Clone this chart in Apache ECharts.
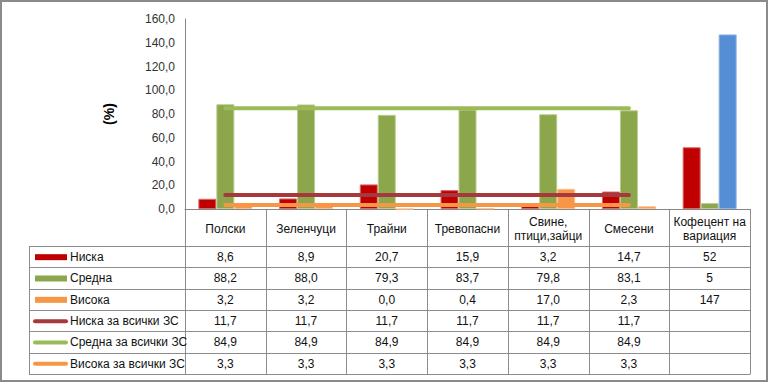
<!DOCTYPE html>
<html><head><meta charset="utf-8">
<script src="https://cdn.jsdelivr.net/npm/echarts@6/dist/echarts.min.js"></script>
<style>html,body{margin:0;padding:0;background:#fff}#c{width:770px;height:383px}</style>
</head><body><div id="c"></div>
<script>
const categories = ['Полски','Зеленчуци','Трайни','Тревопасни','Свине,\nптици,зайци','Смесени','Кофецент на\nвариация'];
const seriesNames = ['Ниска','Средна','Висока','Ниска за всички ЗС','Средна за всички ЗС','Висока за всички ЗС'];
const low = [8.6, 8.9, 20.7, 15.9, 3.2, 14.7, 52];
const mid = [88.2, 88.0, 79.3, 83.7, 79.8, 83.1, 5];
const high = [3.2, 3.2, 0.0, 0.4, 17.0, 2.3, 147];
const lowAll = [11.7, 11.7, 11.7, 11.7, 11.7, 11.7, null];
const midAll = [84.9, 84.9, 84.9, 84.9, 84.9, 84.9, null];
const highAll = [3.3, 3.3, 3.3, 3.3, 3.3, 3.3, null];
const yMin = 0, yMax = 160, yStep = 20;

const colors = ['#C00000', '#8BA64B', '#F79646', '#A5393B', '#9BBB59', '#F79646'];
const borders = ['#D86A6A', '#B9CC8F', '#FAC090'];
const specialColor = '#558ED5';
const allData = [low, mid, high, lowAll, midAll, highAll];

const W = 770, H = 383;
const gridLeft = 185, gridRightX = 750, gridTop = 19, axisY = 209;
const tableLeft = 29, headerBottom = 246, rowH = 21.33;
const colW = (gridRightX - gridLeft) / categories.length;
const font = '"Liberation Sans", Arial, sans-serif';

function fmt(v, i) {
  if (v === null || v === undefined) return '';
  if (i === categories.length - 1) return String(v);
  return v.toFixed(1).replace('.', ',');
}

const g = [];
const lineColor = '#8c8c8c';
function hline(x1, x2, y) { g.push({type:'line', silent:true, shape:{x1:x1, y1:y, x2:x2, y2:y}, style:{stroke:lineColor, lineWidth:1}}); }
function vline(x, y1, y2) { g.push({type:'line', silent:true, shape:{x1:x, y1:y1, x2:x, y2:y2}, style:{stroke:lineColor, lineWidth:1}}); }
const tableBottom = headerBottom + rowH * seriesNames.length;
for (let r = 0; r <= seriesNames.length; r++) {
  const y = Math.round(headerBottom + r * rowH) + 0.5;
  hline(tableLeft, gridRightX, y);
}
vline(tableLeft + 0.5, headerBottom, Math.round(tableBottom) + 0.5);
for (let c = 0; c <= categories.length; c++) {
  const x = Math.round(gridLeft + c * colW) + 0.5;
  vline(x, axisY, Math.round(tableBottom) + 0.5);
}
categories.forEach((name, c) => {
  g.push({type:'text', silent:true, style:{text:name, x: gridLeft + (c + 0.5) * colW, y: (axisY + headerBottom) / 2 + 1,
    align:'center', verticalAlign:'middle', fontSize:12, fontFamily:font, fill:'#111', lineHeight:14}});
});
seriesNames.forEach((name, r) => {
  const cy = headerBottom + (r + 0.5) * rowH + 0.5;
  if (r < 3) {
    g.push({type:'rect', silent:true, shape:{x:35, y:cy - 3, width:32, height:6}, style:{fill:colors[r]}});
  } else {
    g.push({type:'line', silent:true, shape:{x1:35, y1:cy, x2:66, y2:cy}, style:{stroke:colors[r], lineWidth:4, lineCap:'round'}});
  }
  g.push({type:'text', silent:true, style:{text:name, x:70, y:cy, align:'left', verticalAlign:'middle', fontSize:12, fontFamily:font, fill:'#111'}});
  allData[r].forEach((v, c) => {
    g.push({type:'text', silent:true, style:{text:fmt(v, c), x: gridLeft + (c + 0.5) * colW, y: cy,
      align:'center', verticalAlign:'middle', fontSize:12, fontFamily:font, fill:'#111'}});
  });
});
g.push({type:'rect', silent:true, shape:{x:1, y:1, width:W - 4, height:H - 3}, style:{fill:'none', stroke:'#8a8a8a', lineWidth:2}});

const barSeries = [low, mid, high].map((arr, i) => ({
  type:'bar', name: seriesNames[i], barWidth:18, barGap:'0%', z:2,
  data: arr.map((v, c) => (i === 2 && c === categories.length - 1)
    ? {value:v, itemStyle:{color:specialColor, borderColor:'#8DB3E2'}} : v),
  itemStyle:{color:colors[i], borderColor:borders[i], borderWidth:1}
}));
const lineSeries = [lowAll, midAll, highAll].map((arr, i) => ({
  type:'line', name: seriesNames[i + 3], data: arr, showSymbol:false, symbol:'none', z:3,
  lineStyle:{color:colors[i + 3], width:4, cap:'round'}
}));

const chart = echarts.init(document.getElementById('c'), null, {renderer:'svg'});
chart.setOption({
  animation:false,
  backgroundColor:'#fff',
  grid:{left:gridLeft, top:gridTop, right:W - gridRightX, bottom:H - axisY},
  xAxis:{type:'category', data:categories, axisLabel:{show:false}, axisTick:{show:false},
    axisLine:{lineStyle:{color:'#868686', width:1}}},
  yAxis:{type:'value', min:yMin, max:yMax, interval:yStep,
    name:'(%)', nameLocation:'middle', nameGap:69, nameRotate:90,
    nameTextStyle:{fontWeight:'bold', fontSize:14, fontFamily:font, color:'#000'},
    axisLine:{show:true, lineStyle:{color:'#868686', width:1}}, axisTick:{show:false}, splitLine:{show:false},
    axisLabel:{margin:10, fontSize:12, fontFamily:font, color:'#333', formatter:v => v.toFixed(1).replace('.', ',')}},
  series: barSeries.concat(lineSeries),
  graphic: g
});
</script></body></html>
